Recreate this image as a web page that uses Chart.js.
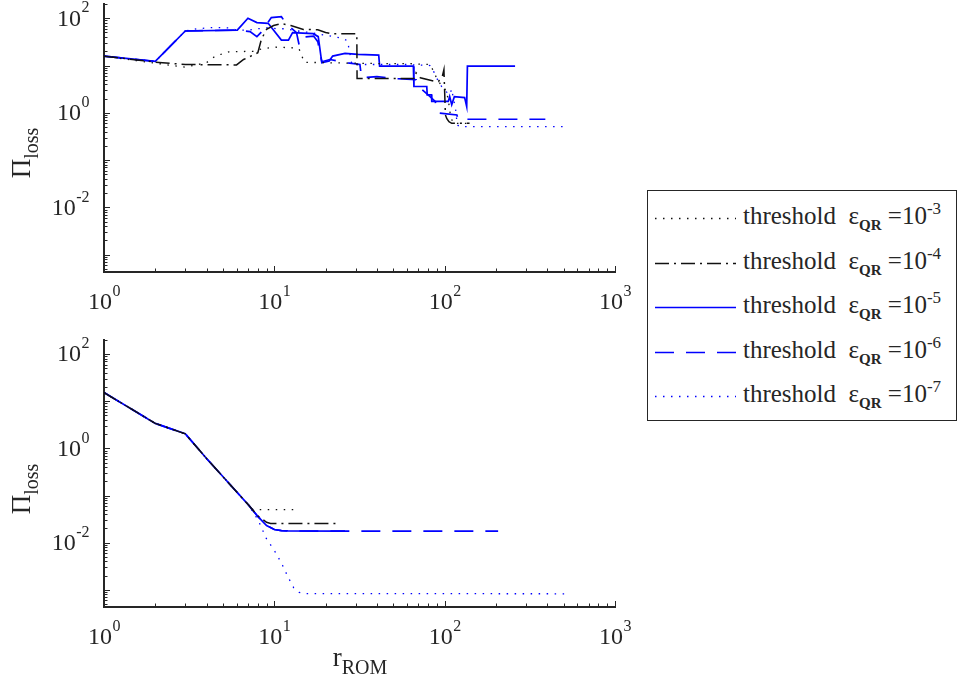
<!DOCTYPE html>
<html><head><meta charset="utf-8">
<script src="https://cdn.jsdelivr.net/npm/chart.js@4.4.1/dist/chart.umd.min.js"></script>
<style>
html,body{margin:0;padding:0;background:#fff;}
#wrap{position:relative;width:958px;height:688px;overflow:hidden;font-family:'Liberation Serif','DejaVu Serif',serif;color:#262626;}
canvas{position:absolute;left:0;}
#cTop{top:0;}
#cBot{top:330px;}
.ytitle{position:absolute;width:120px;height:34px;line-height:34px;text-align:center;font-size:27px;transform:rotate(-90deg);white-space:nowrap;}
.xtitle{position:absolute;width:120px;height:34px;line-height:34px;text-align:center;font-size:27px;white-space:nowrap;}
.sub{font-size:20px;position:relative;top:8px;}
.lsub{font-size:15px;position:relative;top:6px;font-weight:bold;}
.sup{font-size:17px;position:relative;top:-10px;}
#legend{position:absolute;left:647px;top:190px;width:308px;height:229px;border:1px solid #262626;background:#fff;}
.lrow{position:absolute;left:0;width:308px;height:44px;}
.lrow svg{position:absolute;left:7px;top:0;}
.ltext{position:absolute;left:95px;top:0;height:44px;line-height:44px;font-size:25px;white-space:nowrap;}
</style></head>
<body>
<div id="wrap">
  <canvas id="cTop" width="640" height="330"></canvas>
  <canvas id="cBot" width="640" height="358"></canvas>
  <div class="ytitle" id="yt1" style="left:-39px;top:136px;">&Pi;<span class="sub">loss</span></div>
  <div class="ytitle" id="yt2" style="left:-39px;top:472px;">&Pi;<span class="sub">loss</span></div>
  <div class="xtitle" style="left:300px;top:640px;">r<span class="sub">ROM</span></div>
  <div id="legend"></div>
</div>
<script>
// ---------- tick labels ----------
const xTickValues = [1, 10, 100, 1000];
const xTickExponents = ['0', '1', '2', '3'];
const yTickValues = [0.01, 1, 100];
const yTickExponents = ['-2', '0', '2'];

// ---------- legend ----------
const thresholdExponents = ['-3', '-4', '-5', '-6', '-7'];

// ---------- top panel data ----------
const topE3_r = [1, 2, 3, 4, 4.5, 5.4, 7.5, 8.2, 9.9, 12.9, 14, 15, 22, 42, 60, 82, 86, 89.5, 96, 102, 105, 108, 112, 145];
const topE3_v = [15.8, 11.2, 9.2, 11.5, 15.8, 19.5, 20, 22, 24.5, 23.7, 22, 11.7, 11.4, 11, 11, 10.5, 7.6, 5.5, 3.7, 3.0, 1.9, 0.9, 0.6, 0.6];

const topE4_r = [1, 2, 3, 6, 6.6, 8, 8.4, 9, 9.9, 11, 12.5, 14.8, 18, 20, 22, 30.5, 30.6, 67, 68, 72, 88, 92, 97, 99, 101, 103, 106, 110, 140];
const topE4_v = [15.8, 11.8, 10.5, 10.3, 13.4, 18.6, 36, 58, 70, 77, 70, 58, 57, 50, 47, 47, 5.3, 5.3, 7, 5.5, 4.6, 4.6, 6, 8.2, 0.9, 0.75, 0.65, 0.6, 0.6];

const topE5_r = [1, 2, 3, 6.06, 7, 7.9, 9.2, 11, 12.1, 12.8, 16.9, 18.1, 19, 21, 22, 26, 31, 41, 41.5, 65.5, 66, 78.5, 79, 83.7, 84, 105, 107, 110, 114, 131, 134.7, 136, 259];
const topE5_v = [15.8, 12.2, 53.7, 56, 100, 81, 78, 34.5, 34.5, 49.6, 47.2, 40.8, 11.4, 12.4, 15.8, 18, 17.2, 16.6, 9.7, 9.7, 3.6, 3.6, 2.4, 2.4, 1.74, 1.74, 2.2, 1.48, 2.2, 2.1, 1.36, 9.7, 9.7];

const topE6_r = [1, 2, 3, 6, 7.2, 7.9, 8.6, 9.0, 9.6, 11.0, 11.7, 13.5, 14, 15, 17, 18, 19, 21.2, 27, 31.8, 32.5, 40, 53, 68, 70, 80, 88, 91, 118, 120, 390];
const topE6_v = [15.8, 12.2, 53.7, 56, 52, 40.8, 56, 74, 103, 108, 78, 49.6, 26.6, 40, 42, 32, 12, 13.4, 11.4, 10.5, 5.5, 5.8, 5.3, 5.0, 3.6, 2.4, 1.74, 1.0, 0.9, 0.73, 0.73];

const topE7_r = [1, 2, 3, 3.5, 4.5, 5.5, 6, 7, 8, 9.2, 10.3, 11.5, 12.9, 14.5, 16.2, 18.5, 22.2, 25.4, 27, 27.4, 28, 28.5, 40, 60, 82, 86, 89.5, 96, 102, 107, 110, 112, 114, 117, 118, 123, 520];
const topE7_v = [15.8, 12.2, 53.7, 60, 64, 62, 56, 56, 60, 63, 60, 60, 56, 52, 50, 45.5, 41, 37, 33, 22.6, 15.8, 10.5, 10.5, 10.5, 10, 7.6, 5.5, 3.6, 2.8, 2.4, 3.2, 2.2, 1.6, 0.98, 0.56, 0.51, 0.51];

// ---------- bottom panel data ----------
const botE3_r = [1, 2, 3, 4, 5, 6, 7, 7.5, 13];
const botE3_v = [15.3, 3.4, 2.04, 0.61, 0.25, 0.12, 0.065, 0.05, 0.05];

const botE4_r = [1, 2, 3, 4, 5, 6, 7, 8, 9, 9.5, 23];
const botE4_v = [15.3, 3.4, 2.04, 0.61, 0.25, 0.12, 0.065, 0.037, 0.027, 0.0255, 0.0255];

const botE5_r = [1, 2, 3, 4, 5, 6, 7, 8, 9, 10, 11, 12, 26];
const botE5_v = [15.3, 3.4, 2.04, 0.61, 0.25, 0.12, 0.065, 0.036, 0.023, 0.019, 0.018, 0.0177, 0.0175];

const botE6_r = [1, 2, 3, 4, 5, 6, 7, 8, 9, 10, 11, 12, 26, 206];
const botE6_v = [15.3, 3.4, 2.04, 0.61, 0.25, 0.12, 0.065, 0.036, 0.023, 0.019, 0.018, 0.0177, 0.0175, 0.0175];

const botE7_r = [1, 2, 3, 4, 5, 6, 7, 8, 9, 10, 11, 12, 13, 14, 15, 545];
const botE7_v = [15.3, 3.4, 2.04, 0.61, 0.25, 0.12, 0.065, 0.031, 0.012, 0.0068, 0.0037, 0.0019, 0.0011, 0.00088, 0.00083, 0.00082];

// ---------- axis limits ----------
const xMin = 1, xMax = 1000;
const yMin = 4.3e-4, yMax = 200;

// ---------- styles ----------
const axisColor = '#262626';
const seriesStyles = [
  {color: '#111111', width: 1.3, dash: [1.5, 6.5]},
  {color: '#111111', width: 1.5, dash: [14, 5, 2, 5]},
  {color: '#0000ff', width: 1.7, dash: []},
  {color: '#0000ff', width: 1.7, dash: [19, 12]},
  {color: '#0000ff', width: 1.3, dash: [1.5, 6.5]},
];

const axisPlugin = {
  id: 'matlabAxes',
  afterDraw(chart) {
    const ctx = chart.ctx, xs = chart.scales.x, ys = chart.scales.y, a = chart.chartArea;
    ctx.save();
    ctx.strokeStyle = axisColor;
    ctx.lineWidth = 1;
    for (let d = -5; d <= 3; d++) {
      for (let m = 1; m <= 9; m++) {
        const v = m * Math.pow(10, d);
        const len = m === 1 ? 6 : 3.5;
        if (v >= xs.min && v <= xs.max) {
          const px = Math.round(xs.getPixelForValue(v)) + 0.5;
          ctx.beginPath(); ctx.moveTo(px, a.bottom); ctx.lineTo(px, a.bottom - len); ctx.stroke();
        }
        if (v >= ys.min && v <= ys.max) {
          const py = Math.round(ys.getPixelForValue(v)) + 0.5;
          ctx.beginPath(); ctx.moveTo(a.left, py); ctx.lineTo(a.left + len, py); ctx.stroke();
        }
      }
    }
    ctx.fillStyle = axisColor;
    ctx.textBaseline = 'middle';
    ctx.textAlign = 'left';
    const baseFont = "24px 'Liberation Serif', 'DejaVu Serif', serif";
    const supFont = "16px 'Liberation Serif', 'DejaVu Serif', serif";
    function measure(exp) {
      ctx.font = baseFont; const wb = ctx.measureText('10').width;
      ctx.font = supFont; const ws = ctx.measureText(exp).width;
      return [wb, ws];
    }
    function drawPow(exp, x0, y) {
      const [wb] = measure(exp);
      ctx.font = baseFont; ctx.fillText('10', x0, y);
      ctx.font = supFont; ctx.fillText(exp, x0 + wb + 0.5, y - 11);
    }
    xTickValues.forEach((v, i) => {
      const px = xs.getPixelForValue(v);
      const [wb, ws] = measure(xTickExponents[i]);
      drawPow(xTickExponents[i], px - (wb + ws) / 2, a.bottom + 31);
    });
    yTickValues.forEach((v, i) => {
      const py = ys.getPixelForValue(v);
      const [wb, ws] = measure(yTickExponents[i]);
      drawPow(yTickExponents[i], a.left - 15 - (wb + ws), py + 1);
    });
    ctx.restore();
  }
};

function makeChart(id, series, padTop, padBottom) {
  const datasets = series.map((s, i) => ({
    data: s[0].map((r, k) => ({x: r, y: s[1][k]})),
    borderColor: seriesStyles[i].color,
    borderWidth: seriesStyles[i].width,
    borderDash: seriesStyles[i].dash,
    pointRadius: 0,
    showLine: true,
    fill: false,
    tension: 0,
  }));
  return new Chart(document.getElementById(id), {
    type: 'scatter',
    data: {datasets},
    options: {
      responsive: false,
      animation: false,
      devicePixelRatio: 1,
      layout: {padding: {left: 104, right: 25, top: padTop, bottom: padBottom}},
      plugins: {legend: {display: false}, tooltip: {enabled: false}},
      scales: {
        x: {type: 'logarithmic', min: xMin, max: xMax, bounds: 'data',
            ticks: {display: false}, grid: {display: false, drawTicks: false},
            border: {display: true, color: axisColor, width: 2},
            afterFit(s) { s.height = 0; }},
        y: {type: 'logarithmic', min: yMin, max: yMax, bounds: 'data',
            ticks: {display: false}, grid: {display: false, drawTicks: false},
            border: {display: true, color: axisColor, width: 2},
            afterFit(s) { s.width = 0; }},
      }
    },
    plugins: [axisPlugin]
  });
}

makeChart('cTop', [[topE3_r, topE3_v], [topE4_r, topE4_v], [topE5_r, topE5_v], [topE6_r, topE6_v], [topE7_r, topE7_v]], 4, 58);
makeChart('cBot', [[botE3_r, botE3_v], [botE4_r, botE4_v], [botE5_r, botE5_v], [botE6_r, botE6_v], [botE7_r, botE7_v]], 10, 81);

// legend (HTML)
const legend = document.getElementById('legend');
thresholdExponents.forEach((exp, i) => {
  const st = seriesStyles[i];
  const row = document.createElement('div');
  row.className = 'lrow';
  row.style.top = (3 + 44.5 * i) + 'px';
  const dash = st.dash.length ? st.dash.join(' ') : 'none';
  row.innerHTML =
    '<svg width="82" height="44"><line x1="0" y1="24.5" x2="81" y2="24.5" stroke="' + st.color +
    '" stroke-width="' + st.width + '" stroke-dasharray="' + dash + '"/></svg>' +
    '<div class="ltext">threshold&nbsp; &epsilon;<span class="lsub">QR</span> =10<span class="sup">' + exp + '</span></div>';
  legend.appendChild(row);
});
</script>
</body></html>
